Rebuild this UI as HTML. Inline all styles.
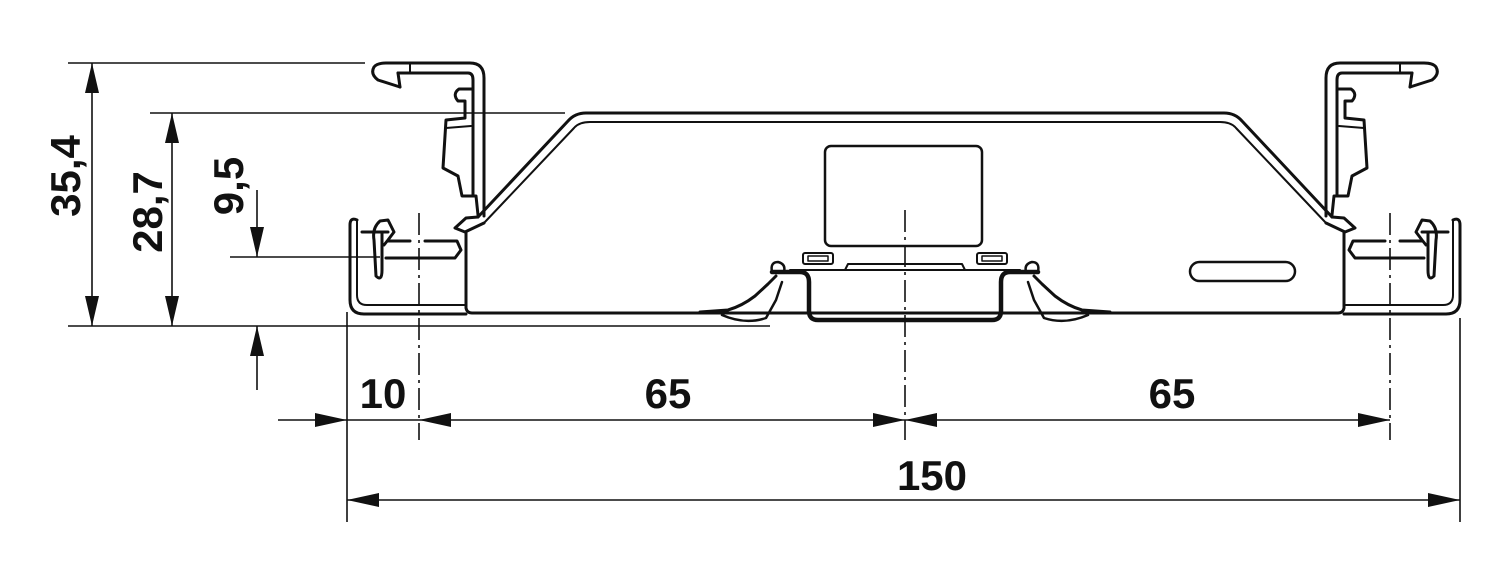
<!DOCTYPE html>
<html><head><style>html,body{margin:0;padding:0;background:#fff;}svg{display:block;}</style></head>
<body>
<svg width="1500" height="586" viewBox="0 0 1500 586" xmlns="http://www.w3.org/2000/svg">
<defs>
<g id="half" fill="none" stroke="#111" stroke-width="3" stroke-linejoin="round" stroke-linecap="round">
  <!-- clip hook -->
  <path d="M400,87 L378,80 Q370,74 374,67 Q377,63 386,63 L470,63 Q484,63 484,78 L484,216"/>
  <path d="M398,73 L468,73 Q473,73 473,80 L473,196"/>
  <path d="M398,73 L400,87"/>
  <path d="M410,63 L410,73" stroke-width="2"/>
  <path d="M472,89 L459,89 Q452,94 458,101 L465,101 L465,118 L446,120 L443,168 L458,176 L462,196 L476,196 L478,215"/>
  <path d="M446,128 L471,126" stroke-width="2"/>
  <!-- body slant -->
  <path d="M478,217 L568,121 Q575,113 586,113 L905,113"/>
  <path d="M484,223 L574,128 Q579,122 590,122 L905,122" stroke-width="2"/>
  <path d="M484,217 L465,218 L456,227 L463,232 L470,226 L905,226" stroke-width="2" stroke="none"/>
  <path d="M478,217 L466,218 L455,228 L465,232 L484,223"/>
  <path d="M466,232 L466,308 Q467,313 472,313 L905,313"/>
  <!-- tray -->
  <path d="M357,220 Q350,217 350,225 L350,300 Q350,314 364,314 L466,314"/>
  <path d="M357,220 L357,295 Q357,305 367,305 L465,305" stroke-width="2"/>
  <path d="M362,232 L388,232 M382,232 L382,270 Q382,282 376,276 L374,240 Q372,228 380,221 L388,220 L394,232 L388,240 L384,245"/>
  <path d="M388,241 L410,241 M425,241 L457,241 L461,250 L455,258 L386,258"/>
  <!-- rail -->
  <path d="M772,272 L800,272 Q809,272 809,282 L809,311 Q809,320 818,320 L905,320" stroke-width="4.5"/>
  <path d="M772,272 Q770,262 778,262 Q786,264 784,272" stroke-width="2.5"/>
  <path d="M700,312 L728,310 Q742,306 755,296 L768,284 L776,276"/>
  <path d="M722,315 Q745,325 766,318 L776,300 L782,282" stroke-width="2.5"/>
  <path d="M845,270 L848,264 L905,264" stroke-width="2"/>
  <path d="M790,270 L905,270" stroke-width="2"/>
  <rect x="803" y="253" width="30" height="11" rx="2" stroke-width="2"/>
  <rect x="808" y="256" width="20" height="5" stroke-width="1.5"/>
</g>
</defs>
<use href="#half"/>
<use href="#half" transform="translate(1810,0) scale(-1,1)"/>
<rect x="825" y="146" width="157" height="100" rx="6" fill="none" stroke="#111" stroke-width="2.5"/>
<rect x="1190" y="262" width="105" height="19" rx="9.5" fill="none" stroke="#111" stroke-width="2.5"/>

<g stroke="#111" stroke-width="1.6" fill="none">
  <!-- extension lines -->
  <path d="M68,63 H365 M150,113 H565 M230,257 H380 M68,326 H770"/>
  <path d="M347,312 V522 M1460,318 V522"/>
  <path d="M419,213 V440 M905,210 V440 M1390,213 V440" stroke-dasharray="22,5,3,5"/>
  <!-- dimension lines -->
  <path d="M92,63 V326 M172,113 V326 M257,190 V257 M257,326 V390"/>
  <path d="M278,420 H1390 M347,500 H1460"/>
</g>
<g fill="#111">
  <path d="M92,63 l-7,30 h14z M92,326 l-7,-30 h14z"/>
  <path d="M172,113 l-7,30 h14z M172,326 l-7,-30 h14z"/>
  <path d="M257,257 l-7,-30 h14z M257,326 l-7,30 h14z"/>
  <path d="M347,420 l-32,-7 v14z M419,420 l32,-7 v14z"/>
  <path d="M905,420 l-32,-7 v14z M905,420 l32,-7 v14z"/>
  <path d="M1390,420 l-32,-7 v14z"/>
  <path d="M347,500 l32,-7 v14z M1460,500 l-32,-7 v14z"/>
</g>
<g font-family="Liberation Sans, sans-serif" font-weight="bold" font-size="42" fill="#111" text-anchor="middle">
  <text x="383" y="408">10</text>
  <text x="668" y="408">65</text>
  <text x="1172" y="408">65</text>
  <text x="932" y="490">150</text>
  <text transform="translate(80,176) rotate(-90)">35,4</text>
  <text transform="translate(162,212) rotate(-90)">28,7</text>
  <text transform="translate(243,186) rotate(-90)">9,5</text>
</g>
</svg>
</body></html>
